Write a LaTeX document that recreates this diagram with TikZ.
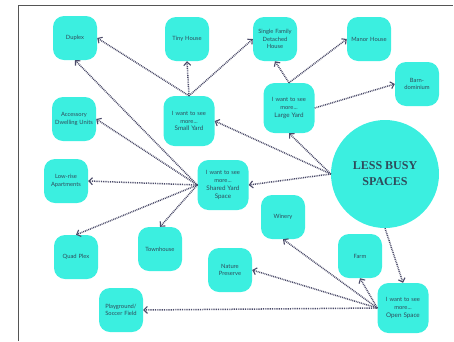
\documentclass[tikz,border=0pt]{standalone}
\usepackage{fontspec}
\setmainfont{Lato}
\newfontfamily\titlefont{Liberation Serif}
\usetikzlibrary{arrows.meta}
\definecolor{tq}{HTML}{3BEFE0}
\definecolor{txt}{HTML}{2F4B5B}
\definecolor{arr}{HTML}{4A4A68}
\definecolor{frame}{HTML}{555555}
\tikzset{
  box/.style={fill=tq, rounded corners=11pt, minimum width=44pt, minimum height=44pt,
    text width=43pt, align=center, inner sep=0pt, text=txt,
    font=\fontsize{5.8}{7.6}\selectfont},
  bigbox/.style={box, minimum width=51pt, minimum height=50pt, text width=49pt},
  circ/.style={circle, fill=tq, minimum size=108pt, inner sep=0pt, text=txt, align=center,
    font=\titlefont\bfseries\fontsize{12}{16}\selectfont},
  link/.style={draw=arr, line width=1.5pt, dash pattern=on 0.9pt off 0.9pt,
    -{Straight Barb[length=3.5pt,width=7pt,line width=1.1pt]}}
}
\begin{document}
\begin{tikzpicture}[x=1pt,y=-1pt]
\useasboundingbox (0,0) rectangle (454,341);
\draw[frame, line width=0.8pt] (18,341) -- (18,5) -- (453,5);

\node[box] (dup) at (75,38) {Duplex};
\node[box] (tiny) at (187,39) {Tiny House};
\node[box] (sfdh) at (275,39) {Single Family\\Detached\\House};
\node[box] (manor) at (369,39) {Manor House};
\node[box] (barn) at (417,84) {Barn-\\dominium};
\node[bigbox] (ly) at (289,108) {I want to see\\more...\\{\fontsize{6.3}{8}\selectfont Large Yard}};
\node[bigbox] (sy) at (189,121) {I want to see\\more...\\{\fontsize{6.3}{8}\selectfont Small Yard}};
\node[box] (adu) at (74,119) {Accessory\\Dwelling Units};
\node[bigbox] (sh) at (223,185) {I want to see\\more...\\{\fontsize{6.3}{8}\selectfont Shared Yard\\Space}};
\node[circ] (lb) at (385,174) {LESS BUSY\\SPACES};
\node[box] (low) at (66,181) {Low-rise\\Apartments};
\node[box] (quad) at (76,257) {Quad Plex};
\node[box] (town) at (160,249) {Townhouse};
\node[box] (win) at (283,217) {Winery};
\node[box] (nat) at (230,270) {Nature\\Preserve};
\node[box] (farm) at (360,256) {Farm};
\node[bigbox] (os) at (403,308) {I want to see\\more...\\{\fontsize{6.3}{8}\selectfont Open Space}};
\node[box] (play) at (121,310) {Playground/\\Soccer Field};

\draw[link] (sy.north) -- (dup.east);
\draw[link] (sy.north) -- (tiny.south);
\draw[link] (sy.north) -- (sfdh.west);
\draw[link] (ly.north) -- (sfdh.south);
\draw[link] (ly.north) -- (manor.west);
\draw[link] (ly.east) -- (barn.west);
\draw[link] (lb.west) -- (ly.south);
\draw[link] (lb.west) -- (sy.east);
\draw[link] (lb.west) -- (sh.east);
\draw[link] (lb.south) -- (os.north);
\draw[link] (sh.west) -- (dup.south);
\draw[link] (sh.west) -- (adu.east);
\draw[link] (sh.west) -- (low.east);
\draw[link] (sh.west) -- (quad.north);
\draw[link] (sh.west) -- (town.north);
\draw[link] (os.west) -- (win.south);
\draw[link] (os.west) -- (nat.east);
\draw[link] (os.west) -- (farm.south);
\draw[link] (os.west) -- (play.east);
\end{tikzpicture}
\end{document}
